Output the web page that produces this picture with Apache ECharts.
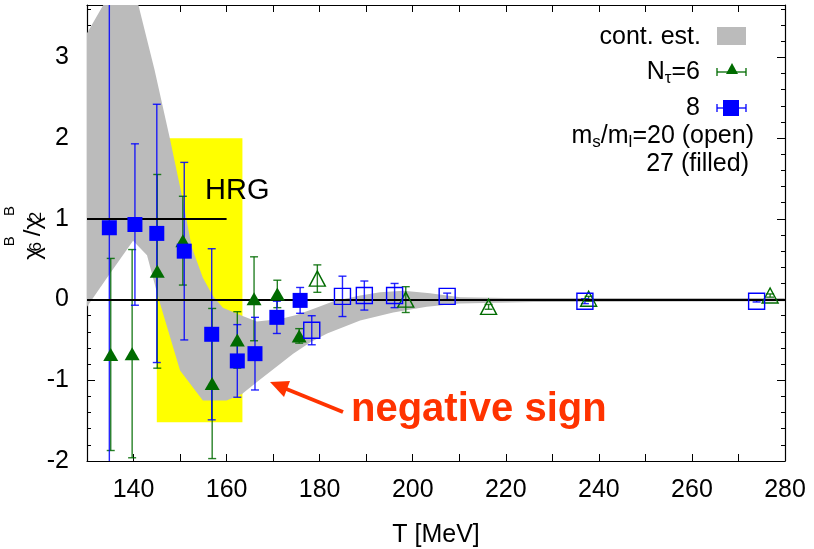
<!DOCTYPE html>
<html>
<head>
<meta charset="utf-8">
<style>
html, body { margin: 0; padding: 0; background: #fff; }
#chart { width: 814px; height: 549px; }
</style>
<script src="https://cdn.jsdelivr.net/npm/echarts@6/dist/echarts.min.js"></script>
</head>
<body>
<div id="chart"></div>
<script>
var FONT = '"Liberation Sans", Arial, Helvetica, sans-serif';

// continuum estimate band (upper / lower edge)
var bandHighT = [130, 134, 137, 141, 144.5, 147.8, 150.6, 152.5, 154.9, 157, 159.2, 163.3, 166.5, 171.5, 175, 178, 183, 188.7, 193, 198, 203.7, 210.2, 220, 280];
var bandHigh  = [3.30, 3.70, 4.0, 3.66, 2.85, 2.0, 1.23, 0.65, 0.27, 0.05, -0.10, -0.20, -0.27, -0.24, -0.19, -0.13, -0.02, 0.05, 0.09, 0.11, 0.08, 0.03, 0.02, 0.02];
var bandLowT  = [130, 134.3, 139.9, 142.9, 145.3, 150, 154.9, 160, 163.3, 167, 171, 174.3, 178, 181.6, 188.7, 195.8, 203, 210, 226, 280];
var bandLow   = [-0.09, 0.27, 0.73, 0.55, 0.03, -0.88, -1.25, -1.25, -1.17, -1.0, -0.82, -0.67, -0.53, -0.42, -0.26, -0.16, -0.09, -0.05, -0.03, -0.02];

// HRG region: [Tmin, Tmax, ymin, ymax] and HRG value line
var hrgBox = [145, 163.4, -1.52, 2.0];
var hrgLine = [130, 160, 1];

// N_tau = 8, ms/ml = 27 (filled squares)
var t8f = [134.8, 140.3, 145.0, 150.9, 156.8, 162.3, 166.1, 170.8, 175.8];
var v8f = [0.89, 0.93, 0.82, 0.60, -0.43, -0.76, -0.67, -0.22, -0.01];
var e8f = [2.9, 1.0, 1.6, 1.1, 1.06, 0.45, 0.45, 0.2, 0.16];

// N_tau = 6, ms/ml = 27 (filled triangles)
var t6f = [135.1, 139.7, 145.1, 150.6, 156.9, 162.3, 165.9, 170.9, 175.6];
var v6f = [-0.68, -0.67, 0.35, 0.73, -1.04, -0.50, 0.01, 0.07, -0.45];
var e6f = [1.19, 1.29, 1.2, 0.55, 0.93, 0.35, 0.52, 0.17, 0.09];

// N_tau = 6, ms/ml = 20 (open triangles)
var t6o = [179.5, 198.5, 216.3, 237.8, 276.8];
var v6o = [0.26, 0.0, -0.09, 0.01, 0.05];
var e6o = [0.17, 0.16, 0.03, 0.03, 0.02];

// N_tau = 8, ms/ml = 20 (open squares)
var t8o = [178.3, 184.9, 189.6, 196.1, 207.4, 237.0, 273.9];
var v8o = [-0.38, 0.04, 0.05, 0.05, 0.04, -0.02, -0.02];
var e8o = [0.18, 0.25, 0.18, 0.15, 0.04, 0.03, 0.01];

var GREEN = '#006b00';
var BLUE = '#0000ff';

function pts(t, v) {
    return t.map(function (x, i) { return [x, v[i]]; });
}
function errPts(t, v, e) {
    return t.map(function (x, i) { return [x, v[i], e[i]]; });
}

function renderBand(params, api) {
    if (params.dataIndex !== 0) {
        return null;
    }
    var poly = [];
    for (var i = 0; i < bandHighT.length; i++) {
        poly.push(api.coord([bandHighT[i], bandHigh[i]]));
    }
    for (var j = bandLowT.length - 1; j >= 0; j--) {
        poly.push(api.coord([bandLowT[j], bandLow[j]]));
    }
    return { type: 'polygon', shape: { points: poly }, style: { fill: '#bbbbbb' } };
}

function renderBox(params, api) {
    var a = api.coord([api.value(0), api.value(3)]);
    var b = api.coord([api.value(1), api.value(2)]);
    return { type: 'rect', shape: { x: a[0], y: a[1], width: b[0] - a[0], height: b[1] - a[1] }, style: { fill: '#ffff00' } };
}

function renderErr(params, api) {
    var x = api.value(0), y = api.value(1), e = api.value(2);
    var hi = api.coord([x, y + e]);
    var lo = api.coord([x, y - e]);
    var w = 4;
    var st = { stroke: api.visual('color'), lineWidth: 1.4, opacity: 0.85 };
    return {
        type: 'group',
        children: [
            { type: 'line', shape: { x1: hi[0], y1: hi[1], x2: lo[0], y2: lo[1] }, style: st },
            { type: 'line', shape: { x1: hi[0] - w, y1: hi[1], x2: hi[0] + w, y2: hi[1] }, style: st },
            { type: 'line', shape: { x1: lo[0] - w, y1: lo[1], x2: lo[0] + w, y2: lo[1] }, style: st }
        ]
    };
}

function errSeries(t, v, e, color) {
    return {
        type: 'custom', renderItem: renderErr, clip: true, z: 4, silent: true,
        itemStyle: { color: color },
        encode: { x: 0, y: 1 },
        data: errPts(t, v, e)
    };
}

var axisText = { fontSize: 25, color: '#000', fontFamily: FONT };
var blackLine = { color: '#000', width: 1.2 };

function xAxisBase(pos) {
    return {
        type: 'value', position: pos, min: 130, max: 280, interval: 10,
        axisLine: { onZero: false, lineStyle: blackLine },
        axisTick: { inside: true, length: 7, lineStyle: { color: '#000' } },
        splitLine: { show: false }
    };
}
function yAxisBase(pos) {
    return {
        type: 'value', position: pos, min: -2, max: 3.65, interval: 1,
        axisLine: { show: true, onZero: false, lineStyle: blackLine },
        axisTick: { inside: true, length: 8, lineStyle: { color: '#000' } },
        minorTick: { show: true, splitNumber: 5, length: 4, lineStyle: { color: '#000' } },
        splitLine: { show: false }
    };
}

var xBottom = xAxisBase('bottom');
xBottom.axisLabel = Object.assign({ margin: 17, formatter: function (v) { return v % 20 === 0 ? String(v) : ''; } }, axisText);
xBottom.name = 'T [MeV]';
xBottom.nameLocation = 'middle';
xBottom.nameGap = 62;
xBottom.nameTextStyle = axisText;
var xTop = xAxisBase('top');
xTop.axisLabel = { show: false };

var yLeft = yAxisBase('left');
yLeft.axisLabel = Object.assign({ margin: 18, showMaxLabel: false }, axisText);
yLeft.name = '{z| }{c|χ}{s|6}{p|B}{c|/χ}{s|2}{p|B}';
yLeft.nameLocation = 'middle';
yLeft.nameRotate = 90;
yLeft.nameGap = 42;
yLeft.nameMoveOverlap = false;
yLeft.nameTextStyle = {
    fontFamily: FONT, color: '#000',
    rich: {
        z: { fontSize: 1, lineHeight: 43 },
        c: { fontSize: 24, fontFamily: FONT, color: '#000', lineHeight: 30, verticalAlign: 'bottom' },
        s: { fontSize: 17, fontFamily: FONT, color: '#000', lineHeight: 26, verticalAlign: 'bottom', width: 1 },
        p: { fontSize: 15, fontFamily: FONT, color: '#000', lineHeight: 15, verticalAlign: 'top' }
    }
};
var yRight = yAxisBase('right');
yRight.axisLabel = { show: false };

var richLeg = {
    a: { fontSize: 25, fontFamily: FONT, color: '#000', lineHeight: 30, verticalAlign: 'middle' },
    s: { fontSize: 17, fontFamily: FONT, color: '#000', lineHeight: 16, verticalAlign: 'bottom' }
};

function legText(txt, x, y) {
    return { type: 'text', x: x, y: y, style: { text: txt, rich: richLeg, align: 'right', verticalAlign: 'middle' }, z: 20 };
}

var graphic = [
    { type: 'text', x: 205, y: 191, style: { text: 'HRG', fontSize: 29, fontFamily: FONT, fill: '#000', verticalAlign: 'middle' }, z: 10 },
    // arrow
    { type: 'line', shape: { x1: 343, y1: 412, x2: 284, y2: 388 }, style: { stroke: '#ff3300', lineWidth: 4 }, z: 10 },
    { type: 'polygon', shape: { points: [[270, 382], [290, 381], [284, 397]] }, style: { fill: '#ff3300' }, z: 10 },
    { type: 'text', x: 351, y: 410, style: { text: 'negative sign', fontSize: 40, fontWeight: 'bold', fontFamily: FONT, fill: '#ff3300', verticalAlign: 'middle' }, z: 10 },
    // legend
    legText('{a|cont. est.}', 701, 37),
    { type: 'rect', shape: { x: 717, y: 27, width: 29, height: 18 }, style: { fill: '#bbbbbb' }, z: 20 },
    legText('{a|N}{s|τ}{a|=6}', 700, 72),
    { type: 'line', shape: { x1: 717, y1: 72, x2: 746, y2: 72 }, style: { stroke: GREEN, lineWidth: 1.3 }, z: 20 },
    { type: 'line', shape: { x1: 717, y1: 68, x2: 717, y2: 76 }, style: { stroke: GREEN, lineWidth: 1.3 }, z: 20 },
    { type: 'line', shape: { x1: 746, y1: 68, x2: 746, y2: 76 }, style: { stroke: GREEN, lineWidth: 1.3 }, z: 20 },
    { type: 'polygon', shape: { points: [[732, 63], [738, 74], [726, 74]] }, style: { fill: GREEN }, z: 20 },
    legText('{a|8}', 700, 108),
    { type: 'line', shape: { x1: 717, y1: 108, x2: 746, y2: 108 }, style: { stroke: BLUE, lineWidth: 1.3 }, z: 20 },
    { type: 'line', shape: { x1: 717, y1: 104, x2: 717, y2: 112 }, style: { stroke: BLUE, lineWidth: 1.3 }, z: 20 },
    { type: 'line', shape: { x1: 746, y1: 104, x2: 746, y2: 112 }, style: { stroke: BLUE, lineWidth: 1.3 }, z: 20 },
    { type: 'rect', shape: { x: 723, y: 100, width: 16, height: 16 }, style: { fill: BLUE }, z: 20 },
    legText('{a|m}{s|s}{a|/m}{s|l}{a|=20 (open)}', 754, 136),
    legText('{a|27 (filled)}', 749, 164)
];

var chart = echarts.init(document.getElementById('chart'));

var option = {
    animation: false,
    backgroundColor: '#fff',
    grid: { left: 87, right: 29, top: 5, bottom: 88, containLabel: false, outerBoundsMode: 'none' },
    xAxis: [xBottom, xTop],
    yAxis: [yLeft, yRight],
    graphic: graphic,
    series: [
        {
            name: 'HRG box', type: 'custom', renderItem: renderBox, z: 1, silent: true,
            encode: { x: [0, 1], y: [2, 3] },
            data: [hrgBox]
        },
        {
            name: 'cont. est.', type: 'custom', renderItem: renderBand, clip: true, z: 2, silent: true,
            encode: { x: 0, y: 1 },
            data: pts(bandLowT, bandLow),
            markLine: {
                silent: true, symbol: 'none', label: { show: false },
                lineStyle: { color: '#000', width: 1.8, type: 'solid' },
                data: [
                    { yAxis: 0 },
                    [{ coord: [hrgLine[0], hrgLine[2]] }, { coord: [hrgLine[1], hrgLine[2]] }]
                ]
            }
        },
        errSeries(t6f, v6f, e6f, GREEN),
        errSeries(t8f, v8f, e8f, BLUE),
        errSeries(t6o, v6o, e6o, GREEN),
        errSeries(t8o, v8o, e8o, BLUE),
        {
            name: 'Nt=6 filled', type: 'scatter', z: 5, symbol: 'triangle', symbolSize: [15, 13],
            itemStyle: { color: GREEN, opacity: 1 }, data: pts(t6f, v6f)
        },
        {
            name: 'Nt=8 filled', type: 'scatter', z: 5, symbol: 'rect', symbolSize: [15, 15],
            itemStyle: { color: BLUE, opacity: 1 }, data: pts(t8f, v8f)
        },
        {
            name: 'Nt=6 open', type: 'scatter', z: 5, symbol: 'triangle', symbolSize: [16, 15],
            itemStyle: { color: 'rgba(0,0,0,0)', borderColor: GREEN, borderWidth: 1.4, opacity: 1 }, data: pts(t6o, v6o)
        },
        {
            name: 'Nt=8 open', type: 'scatter', z: 5, symbol: 'rect', symbolSize: [16, 16],
            itemStyle: { color: 'rgba(0,0,0,0)', borderColor: BLUE, borderWidth: 1.4, opacity: 1 }, data: pts(t8o, v8o)
        }
    ]
};

chart.setOption(option);
</script>
</body>
</html>
